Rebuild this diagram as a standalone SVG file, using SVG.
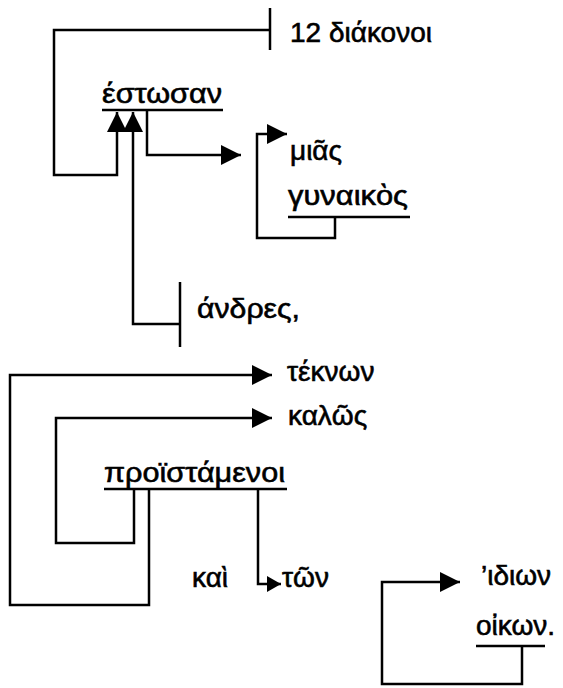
<svg xmlns="http://www.w3.org/2000/svg" width="563" height="688" viewBox="0 0 563 688">
<style>
text{font-family:"Liberation Sans","DejaVu Sans",Arial,sans-serif;font-size:28px;fill:#000;stroke:#000;stroke-width:0.6}
.ln{fill:none;stroke:#000;stroke-width:2.5}
</style>
<defs>
<marker id="arr" viewBox="0 0 20 20" refX="20" refY="10" markerWidth="20" markerHeight="20" markerUnits="userSpaceOnUse" orient="auto"><path d="M0,0 L20,10 L0,20 z" fill="#000"/></marker>
<marker id="arrs" viewBox="0 0 14 16" refX="14" refY="8" markerWidth="14" markerHeight="16" markerUnits="userSpaceOnUse" orient="auto"><path d="M0,0 L14,8 L0,16 z" fill="#000"/></marker>
</defs>
<rect width="563" height="688" fill="#fff"/>
<g id="connectors">
<path class="ln" d="M270,30 H54 V175 H117 V112" marker-end="url(#arr)"/>
<path class="ln" d="M180,324 H133 V112" marker-end="url(#arr)"/>
<path class="ln" d="M147,110 V155 H241" marker-end="url(#arr)"/>
<path class="ln" d="M335,217 V238 H257 V134 H287" marker-end="url(#arr)"/>
<path class="ln" d="M149,489 V605 H10 V375 H272" marker-end="url(#arr)"/>
<path class="ln" d="M134,489 V543 H56 V418 H272" marker-end="url(#arr)"/>
<path class="ln" d="M258,489 V584 H281" marker-end="url(#arrs)"/>
<path class="ln" d="M522,646 V684 H382 V582 H460" marker-end="url(#arr)"/>
</g>
<g id="n-diakonoi"><line class="ln" x1="270" y1="8" x2="270" y2="50"/><text x="290" y="42">12 διάκονοι</text></g>
<g id="n-estosan"><text x="102" y="103" textLength="120" lengthAdjust="spacingAndGlyphs">έστωσαν</text><line class="ln" x1="102" y1="110" x2="223" y2="110"/></g>
<g id="n-mias"><text x="290" y="160">μιᾶς</text></g>
<g id="n-gynaikos"><text x="288" y="205" textLength="120" lengthAdjust="spacingAndGlyphs">γυναικὸς</text><line class="ln" x1="288" y1="217" x2="410" y2="217"/></g>
<g id="n-andres"><line class="ln" x1="180" y1="282" x2="180" y2="347"/><text x="197" y="318" textLength="103" lengthAdjust="spacingAndGlyphs">άνδρες,</text></g>
<g id="n-teknon"><text x="287" y="381">τέκνων</text></g>
<g id="n-kalos"><text x="288" y="425">καλῶς</text></g>
<g id="n-proistamenoi"><text x="104" y="482" textLength="181" lengthAdjust="spacingAndGlyphs">προϊστάμενοι</text><line class="ln" x1="104" y1="489" x2="287" y2="489"/></g>
<g id="n-kai"><text x="192" y="587">καὶ</text></g>
<g id="n-ton"><text x="282" y="587">τῶν</text></g>
<g id="n-idion"><text x="481" y="585">’ιδιων</text></g>
<g id="n-oikon"><text x="476" y="635">οἰκων.</text><line class="ln" x1="476" y1="646" x2="545" y2="646"/></g>
</svg>
